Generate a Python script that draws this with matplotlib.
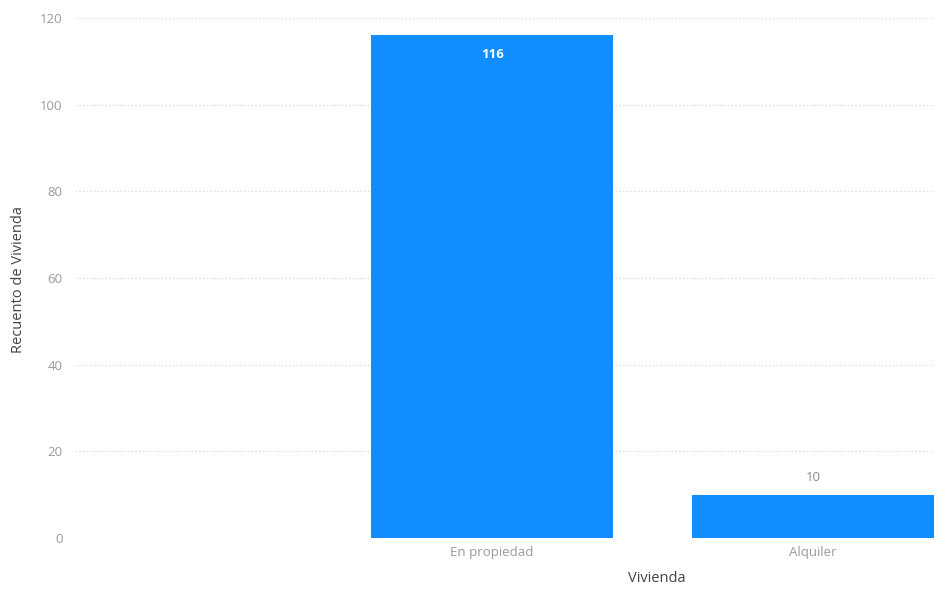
import matplotlib
matplotlib.use("Agg")
import matplotlib.pyplot as plt

plt.rcParams['font.family'] = ['Open Sans', 'DejaVu Sans']

# Data
categories = ['En propiedad', 'Alquiler']
values = [116, 10]
y_ticks = [0, 20, 40, 60, 80, 100, 120]

bar_color = '#118DFF'

fig = plt.figure(figsize=(9.47, 5.91), dpi=100)
ax = fig.add_axes([75 / 947, 53 / 591, 860 / 947, 520 / 591])

x = list(range(len(categories)))
bars = ax.bar(x, values, width=0.756, color=bar_color, zorder=3)

ax.set_xlim(-1.3, 1.38)
ax.set_ylim(0, 120)
ax.set_yticks(y_ticks)
ax.set_xticks(x)
ax.set_xticklabels(categories)

# dotted grid like Power BI
ax.yaxis.grid(True, linestyle=(0, (1, 2)), color='#d9d9d9', linewidth=0.9, zorder=0)
ax.xaxis.grid(False)
for s in ax.spines.values():
    s.set_visible(False)
ax.tick_params(axis='both', length=0, colors='#9a9a9a', labelsize=9.5)
ax.tick_params(axis='y', pad=9)
ax.tick_params(axis='x', pad=6)

# data labels
for xi, v in zip(x, values):
    if v > 20:
        ax.text(xi, v - 3, str(v), ha='center', va='top', color='white',
                fontsize=9.5, fontweight='bold', zorder=4)
    else:
        ax.text(xi, v + 2.5, str(v), ha='center', va='bottom', color='#8a8a8a',
                fontsize=9.5, zorder=4)

fig.text(19 / 947, 1 - 280 / 591, 'Recuento de Vivienda', rotation=90, ha='center',
         va='center', fontsize=10.5, color='#444444')
fig.text(657 / 947, 1 - 578 / 591, 'Vivienda', ha='center', va='center',
         fontsize=10.5, color='#444444')

fig.savefig('out.png', dpi=100, facecolor='white')
